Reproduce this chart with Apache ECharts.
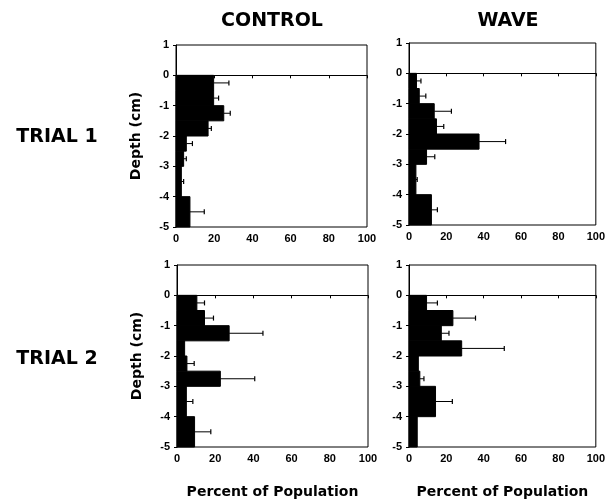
<!DOCTYPE html>
<html>
<head>
<meta charset="utf-8">
<script src="https://cdn.jsdelivr.net/npm/echarts@6/dist/echarts.min.js"></script>
<style>
  html, body { margin: 0; padding: 0; background: #fff; }
  #chart { width: 608px; height: 503px; }
</style>
</head>
<body>
<div id="chart"></div>
<script>
// depth bins (cm): half-cm bins down to -3, then 1 cm bins
const binTops = [0, -0.5, -1, -1.5, -2, -2.5, -3, -4];
const binBottoms = [-0.5, -1, -1.5, -2, -2.5, -3, -4, -5];

// percent of population per bin, and error bar length
const controlTrial1 = [19.7, 19.7, 25, 16.8, 5.4, 4, 2.8, 7.3];
const controlTrial1Err = [8, 2.6, 3.4, 1.7, 3.2, 1.4, 1.2, 7.5];
const waveTrial1 = [4, 5.5, 13.5, 14.7, 37.5, 9.4, 3.7, 12];
const waveTrial1Err = [2.4, 3.5, 9.2, 3.9, 14.2, 4.4, 0.7, 3.2];
const controlTrial2 = [10.4, 14.4, 27.3, 4, 5.2, 22.7, 4.9, 9.2];
const controlTrial2Err = [4, 4.7, 17.7, 0, 3.8, 18, 3.4, 8.5];
const waveTrial2 = [9.4, 23.5, 17.3, 28.2, 5, 5.8, 14.2, 4.4];
const waveTrial2Err = [5.8, 12.1, 4.1, 22.8, 0, 2.2, 9, 0];

const xTicks = [0, 20, 40, 60, 80, 100];
const columnTitles = ['CONTROL', 'WAVE'];
const rowTitles = ['TRIAL 1', 'TRIAL 2'];

const panels = [
    {vals: controlTrial1, errs: controlTrial1Err, left: 176, top: 45, col: 0, row: 0},
    {vals: waveTrial1, errs: waveTrial1Err, left: 409, top: 43, col: 1, row: 0},
    {vals: controlTrial2, errs: controlTrial2Err, left: 177, top: 265, col: 0, row: 1},
    {vals: waveTrial2, errs: waveTrial2Err, left: 409, top: 265, col: 1, row: 1}
];

const labelFont = {fontFamily: 'Liberation Sans', fontWeight: 'bold', fontSize: 11, color: '#000'};
const nameFont = {fontFamily: 'DejaVu Sans', fontWeight: 'bold', fontSize: 14, color: '#000'};

function renderBar(params, api) {
    const p0 = api.coord([0, api.value(1)]);
    const p1 = api.coord([api.value(0), api.value(2)]);
    return {
        type: 'rect',
        shape: {x: p0[0], y: p0[1], width: p1[0] - p0[0], height: p1[1] - p0[1]},
        style: {fill: '#000', stroke: '#000', lineWidth: 1}
    };
}

function renderErr(params, api) {
    const v = api.value(0);
    const e = api.value(3);
    if (!e) return null;
    const mid = (api.value(1) + api.value(2)) / 2;
    const s = api.coord([v, mid]);
    const t = api.coord([v + e, mid]);
    return {
        type: 'group',
        children: [
            {type: 'line', shape: {x1: s[0], y1: s[1], x2: t[0], y2: t[1]}, style: {stroke: '#000', lineWidth: 1}},
            {type: 'line', shape: {x1: t[0], y1: t[1] - 2.5, x2: t[0], y2: t[1] + 2.5}, style: {stroke: '#000', lineWidth: 1.2}}
        ]
    };
}

const grids = [], xAxes = [], yAxes = [], series = [];
panels.forEach((p, i) => {
    grids.push({left: p.left, top: p.top, width: p.col === 0 ? 191 : 188, height: 182,
        show: true, borderColor: '#000', borderWidth: 1, backgroundColor: '#fff'});
    xAxes.push({
        type: 'value', gridIndex: i, min: 0, max: 100, interval: 20,
        name: p.row === 1 ? 'Percent of Population' : '',
        nameLocation: 'middle', nameGap: 38, nameTextStyle: nameFont,
        axisLine: {show: true, lineStyle: {color: '#000'}},
        axisTick: {show: true, length: 3, lineStyle: {color: '#000'}},
        axisLabel: Object.assign({margin: 6, formatter: v => xTicks.includes(v) ? String(v) : ''}, labelFont),
        splitLine: {show: false}
    });
    yAxes.push({
        type: 'value', gridIndex: i, min: -5, max: 1, interval: 1,
        name: p.col === 0 ? 'Depth (cm)' : '',
        nameLocation: 'middle', nameGap: 33, nameTextStyle: nameFont,
        axisLine: {show: true, lineStyle: {color: '#000'}},
        axisTick: {show: true, length: 3, lineStyle: {color: '#000'}},
        axisLabel: Object.assign({margin: 7}, labelFont),
        splitLine: {show: false}
    });
    const data = p.vals.map((v, k) => [v, binTops[k], binBottoms[k], p.errs[k]]);
    series.push({
        type: 'custom', xAxisIndex: i, yAxisIndex: i, renderItem: renderBar,
        encode: {x: 0, y: [1, 2]}, data: data, silent: true,
        markLine: {
            silent: true, symbol: 'none', label: {show: false},
            lineStyle: {color: '#000', type: 'solid', width: 1},
            data: [{yAxis: 0}]
        }
    });
    series.push({
        type: 'custom', xAxisIndex: i, yAxisIndex: i, renderItem: renderErr,
        encode: {x: 0, y: [1, 2]}, data: data, silent: true, z: 3
    });
});

const titleStyle = {fontFamily: 'DejaVu Sans', fontWeight: 'bold', fontSize: 19, color: '#000'};
const titles = [
    {text: columnTitles[0], left: 267, top: 7, textAlign: 'center', textStyle: titleStyle},
    {text: columnTitles[1], left: 503, top: 7, textAlign: 'center', textStyle: titleStyle},
    {text: rowTitles[0], left: 52, top: 123, textAlign: 'center', textStyle: titleStyle},
    {text: rowTitles[1], left: 52, top: 345, textAlign: 'center', textStyle: titleStyle}
];

const chart = echarts.init(document.getElementById('chart'));
chart.setOption({
    animation: false,
    backgroundColor: '#fff',
    title: titles,
    grid: grids,
    xAxis: xAxes,
    yAxis: yAxes,
    series: series
});
window.addEventListener('resize', () => chart.resize());
</script>
</body>
</html>
